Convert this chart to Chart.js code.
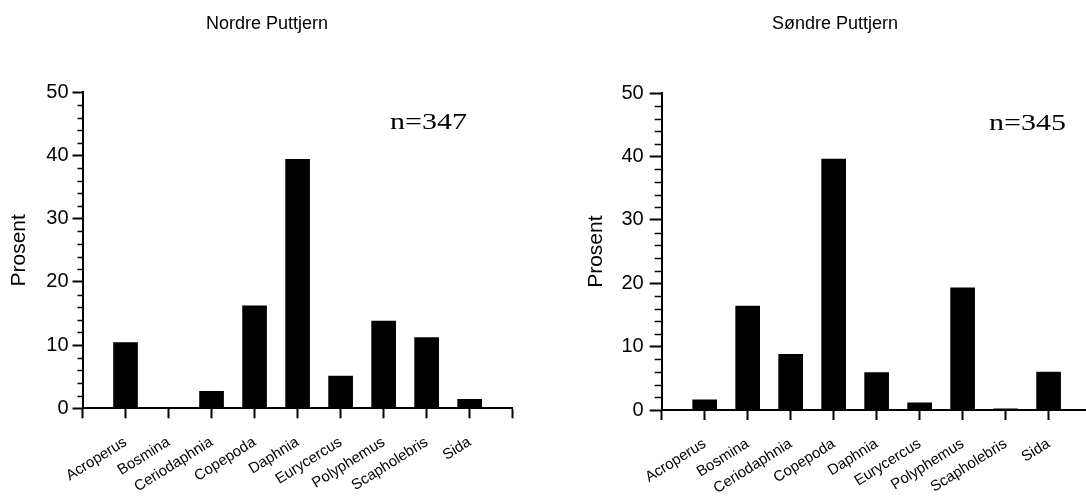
<!DOCTYPE html>
<html>
<head>
<meta charset="utf-8">
<script src="https://cdn.jsdelivr.net/npm/chart.js@4.4.1/dist/chart.umd.min.js"></script>
<style>
  html, body { margin: 0; padding: 0; background: #fff; overflow: hidden; }
  #wrap { position: relative; width: 1086px; height: 499px; }
  .box { position: absolute; top: 0; width: 543px; height: 499px; }
</style>
</head>
<body>
<div id="wrap">
  <div class="box" style="left:0"><canvas id="nordre" width="543" height="499"></canvas></div>
  <div class="box" style="left:543px"><canvas id="sondre" width="543" height="499"></canvas></div>
</div>
<script>
const categories = ['Acroperus', 'Bosmina', 'Ceriodaphnia', 'Copepoda', 'Daphnia', 'Eurycercus', 'Polyphemus', 'Scapholebris', 'Sida'];
const nordreValues = [10.4, 0, 2.7, 16.2, 39.4, 5.1, 13.8, 11.2, 1.4];
const sondreValues = [1.6, 16.4, 8.8, 39.6, 5.9, 1.15, 19.3, 0.2, 6.0];
const yTicks = [0, 10, 20, 30, 40, 50];
const minorStep = 2;

const SANS = '"Liberation Sans", Arial, Helvetica, sans-serif';
const SERIF = '"Liberation Serif", "Times New Roman", serif';

// minor ticks on the y axis (every 2 %)
const minorTicks = {
  id: 'minorTicks',
  afterDraw(chart, args, opts) {
    const y = chart.scales.y;
    const ctx = chart.ctx;
    const x0 = chart.chartArea.left;
    ctx.save();
    ctx.strokeStyle = '#000';
    ctx.lineWidth = 1.5;
    for (let v = y.min + minorStep; v < y.max; v += minorStep) {
      if (yTicks.includes(v)) continue;
      const py = Math.round(y.getPixelForValue(v)) + 0.5;
      ctx.beginPath();
      ctx.moveTo(x0 - opts.len, py);
      ctx.lineTo(x0 + 1, py);
      ctx.stroke();
    }
    ctx.restore();
  }
};

// panel title and sample size
const annotate = {
  id: 'annotate',
  afterDraw(chart, args, opts) {
    const ctx = chart.ctx;
    ctx.save();
    ctx.fillStyle = '#000';
    ctx.font = '18px ' + SANS;
    ctx.textAlign = 'center';
    ctx.textBaseline = 'alphabetic';
    ctx.fillText(opts.title, opts.titleX, 29);
    ctx.translate(opts.nX, opts.nY);
    ctx.scale(1.25, 1);
    ctx.font = '24px ' + SERIF;
    ctx.textAlign = 'left';
    ctx.fillText(opts.n, 0, 0);
    ctx.restore();
  }
};

function makeChart(id, values, p) {
  const xTicks = [-1, ...categories.map((c, i) => i)];
  if (p.xMax >= categories.length) xTicks.push(categories.length);

  return new Chart(document.getElementById(id), {
    type: 'bar',
    data: {
      datasets: [{
        data: values.map((v, i) => ({ x: i, y: v })),
        backgroundColor: '#000',
        borderWidth: 0,
        barThickness: 24
      }]
    },
    options: {
      responsive: false,
      animation: false,
      devicePixelRatio: 1,
      layout: { padding: { left: 0, right: p.padRight, top: p.top, bottom: 0 } },
      plugins: {
        legend: { display: false },
        tooltip: { enabled: false },
        minorTicks: { len: p.minorLen },
        annotate: { title: p.title, titleX: p.titleX, n: p.n, nX: p.nX, nY: p.nY }
      },
      scales: {
        x: {
          type: 'linear',
          offset: false,
          min: -1,
          max: p.xMax,
          afterBuildTicks: s => { s.ticks = xTicks.map(v => ({ value: v })); },
          afterFit: s => { s.height = 499 - p.bottom; },
          ticks: {
            color: '#000',
            font: { family: SANS, size: 15 },
            minRotation: 32,
            maxRotation: 32,
            autoSkip: false,
            padding: 15,
            callback: v => categories[v] ?? ''
          },
          grid: { offset: false, drawOnChartArea: false, tickLength: 10, tickWidth: 2, tickColor: '#000' },
          border: { color: '#000', width: 2 }
        },
        y: {
          min: 0,
          max: 50,
          afterBuildTicks: s => { s.ticks = yTicks.map(v => ({ value: v })); },
          afterFit: s => { s.width = p.left; },
          ticks: { color: '#000', font: { family: SANS, size: 20 }, padding: p.yPad },
          grid: { drawOnChartArea: false, tickLength: p.majorLen, tickWidth: 2, tickColor: '#000' },
          border: { color: '#000', width: 2 },
          title: {
            display: true,
            text: 'Prosent',
            color: '#000',
            font: { family: SANS, size: 21 },
            padding: { top: p.titlePad, bottom: 0 }
          }
        }
      }
    },
    plugins: [minorTicks, annotate]
  });
}

makeChart('nordre', nordreValues, {
  title: 'Nordre Puttjern', titleX: 267, n: 'n=347', nX: 390, nY: 129,
  left: 82.5, padRight: 543 - 512.7, top: 92.3, bottom: 408.3,
  xMax: 9, majorLen: 10, yPad: 4, minorLen: 5, titlePad: 7
});

makeChart('sondre', sondreValues, {
  title: 'Søndre Puttjern', titleX: 292, n: 'n=345', nX: 446, nY: 130,
  left: 118.7, padRight: 0, top: 93.3, bottom: 410,
  xMax: 8.87, majorLen: 12, yPad: 6, minorLen: 7, titlePad: 41
});
</script>
</body>
</html>
